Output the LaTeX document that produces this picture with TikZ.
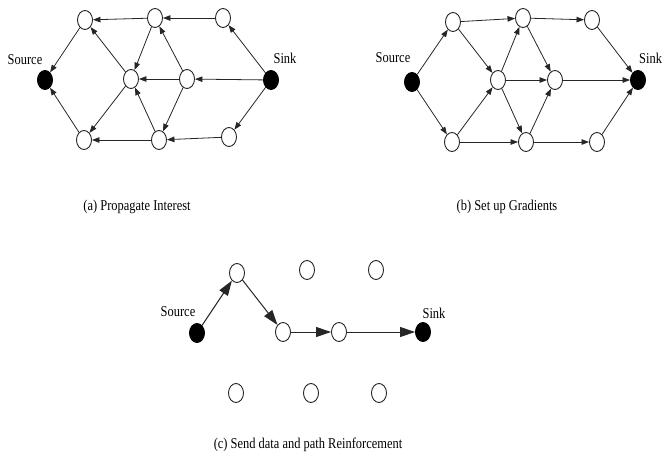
\documentclass[tikz,border=0pt]{standalone}
\usepackage{fontspec}
\setmainfont{Liberation Serif}
\usetikzlibrary{shapes.geometric,arrows.meta}
\newcommand\sqz[1]{\scalebox{0.83}[1]{#1}}
\begin{document}
\begin{tikzpicture}[x=1pt,y=-1pt,
  nd/.style={ellipse,draw=black!85,line width=0.9pt,minimum width=15pt,minimum height=19pt,inner sep=0pt,fill=white},
  fnd/.style={nd,fill=black,draw=black},
  ar/.style={draw=black!85,line width=0.8pt,-{Triangle[length=7.5pt,width=5.5pt]}},
  bar/.style={draw=black!85,line width=1pt,-{Triangle[length=15pt,width=10pt]}},
  lbl/.style={font=\fontsize{15}{17}\selectfont,inner sep=0pt}]
\useasboundingbox (0,0) rectangle (662,456);
% ---------- (a) ----------
\node[fnd] (aS) at (45,80) {};
\node[nd] (a1) at (85,20) {};
\node[nd] (a2) at (155,18) {};
\node[nd] (a3) at (223,18) {};
\node[nd] (am1) at (131,79) {};
\node[nd] (am2) at (187,79) {};
\node[fnd] (aK) at (271,80) {};
\node[nd] (ab1) at (84,140) {};
\node[nd] (ab2) at (159,140) {};
\node[nd] (ab3) at (229,137) {};
\node[lbl] (laS) at (25,60) {\sqz{Source}};
\node[lbl] (laK) at (285,58) {\sqz{Sink}};
\draw[ar] (aK) -- (a3);
\draw[ar] (a3) -- (a2);
\draw[ar] (a2) -- (a1);
\draw[ar] (a1) -- (aS);
\draw[ar] (aK) -- (am2);
\draw[ar] (am2) -- (am1);
\draw[ar] (am1) -- (a1);
\draw[ar] (a2) -- (am1);
\draw[ar] (am2) -- (a2);
\draw[ar] (am2) -- (ab2);
\draw[ar] (ab2) -- (am1);
\draw[ar] (am1) -- (ab1);
\draw[ar] (aK) -- (ab3);
\draw[ar] (ab3) -- (ab2);
\draw[ar] (ab2) -- (ab1);
\draw[ar] (ab1) -- (aS);
\node[lbl] (capa) at (137,207) {\sqz{(a) Propagate Interest}};
% ---------- (b) ----------
\node[fnd] (bS) at (412,82) {};
\node[nd] (b1) at (453,22) {};
\node[nd] (b2) at (523,18) {};
\node[nd] (b3) at (592,20) {};
\node[nd] (bm1) at (498,80) {};
\node[nd] (bm2) at (555,80) {};
\node[fnd] (bK) at (638,80) {};
\node[nd] (bb1) at (452,142) {};
\node[nd] (bb2) at (526,142) {};
\node[nd] (bb3) at (597,142) {};
\node[lbl] (lbS) at (393,58) {\sqz{Source}};
\node[lbl,anchor=west] (lbK) at (639,58) {\sqz{Sink}};
\draw[ar] (bS) -- (b1);
\draw[ar] (bS) -- (bb1);
\draw[ar] (b1) -- (b2);
\draw[ar] (b2) -- (b3);
\draw[ar] (b3) -- (bK);
\draw[ar] (b1) -- (bm1);
\draw[ar] (bm1) -- (b2);
\draw[ar] (b2) -- (bm2);
\draw[ar] (bm1) -- (bm2);
\draw[ar] (bm2) -- (bK);
\draw[ar] (bm1) -- (bb2);
\draw[ar] (bb1) -- (bm1);
\draw[ar] (bb2) -- (bm2);
\draw[ar] (bb1) -- (bb2);
\draw[ar] (bb2) -- (bb3);
\draw[ar] (bb3) -- (bK);
\node[lbl] (capb) at (507,207) {\sqz{(b) Set up Gradients}};
% ---------- (c) ----------
\node[fnd] (cS) at (197,333) {};
\node[nd] (c1) at (237,273) {};
\node[nd] (ct2) at (307,270) {};
\node[nd] (ct3) at (376,270) {};
\node[nd] (c2) at (283,332) {};
\node[nd] (c3) at (339,332) {};
\node[fnd] (cK) at (423,332) {};
\node[nd] (cb1) at (236,393) {};
\node[nd] (cb2) at (311,393) {};
\node[nd] (cb3) at (379,393) {};
\node[lbl] (lcS) at (178,312) {\sqz{Source}};
\node[lbl] (lcK) at (434,313) {\sqz{Sink}};
\draw[bar] (cS) -- (c1);
\draw[bar] (c1) -- (c2);
\draw[bar] (c2) -- (c3);
\draw[bar] (c3) -- (cK);
\node[lbl] (capc) at (308,445) {\sqz{(c) Send data and path Reinforcement}};
\end{tikzpicture}
\end{document}
